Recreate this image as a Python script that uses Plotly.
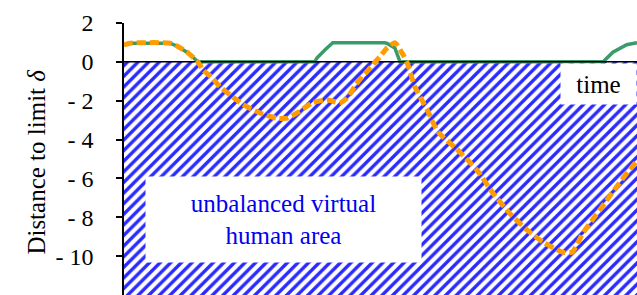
import plotly.graph_objects as go

# time axis in arbitrary units 0..100
orange_t = [0, 1.2, 9.0, 10.5, 12.5, 14.4, 15.4, 17.2, 18.7, 20.7, 23.2, 26.5, 29.8, 31.8, 33.7,
            35.3, 36.8, 39.6, 42.1, 43.5, 45.4, 48.0, 49.9, 51.3, 52.8, 54.2, 55.2, 56.7, 59.1,
            61.2, 64.9, 68.8, 71.9, 75.2, 78.6, 81.7, 85.6, 87.3, 89.5, 92.8, 96.1, 99.0, 100]
orange_y = [0.88, 0.96, 0.96, 0.79, 0.46, 0.0, -0.41, -0.83, -1.28, -1.70, -2.2, -2.63, -2.9, -2.9, -2.63,
            -2.35, -2.1, -1.96, -2.1, -1.85, -1.1, -0.3, 0.27, 0.72, 0.98, 0.46, -0.05, -1.28, -2.47,
            -3.6, -4.5, -5.57, -6.75, -7.8, -8.66, -9.28, -9.8, -9.8, -8.8, -7.6, -6.4, -5.4, -5.1]

green_t = [0, 1.2, 9.0, 10.5, 12.5, 14.0, 14.4, 37.2, 37.6, 39.2, 40.2, 40.7, 50.8, 51.3, 52.8, 53.4, 53.8,
           93.4, 95.3, 98.0, 100]
green_y = [0.88, 0.96, 0.96, 0.79, 0.46, 0.08, 0.0, 0.0, 0.2, 0.62, 0.9, 0.98, 0.98, 0.95, 0.72, 0.2, 0.0,
           0.0, 0.5, 0.88, 0.98]

tick_vals = [2, 0, -2, -4, -6, -8, -10]
tick_text = ["2", "0", "- 2", "- 4", "- 6", "- 8", "- 10"]

area_t = [0, 100, 100, 0]
area_y = [0, 0, -13, -13]

FONT = "Liberation Serif, Times New Roman, serif"

fig = go.Figure()
fig.add_trace(go.Scatter(
    x=area_t, y=area_y, mode="none", fill="toself", fillcolor="white",
    fillpattern=dict(shape="/", fgcolor="#2a2aff", bgcolor="white", fgopacity=1,
                     size=7.5, solidity=0.45),
    hoverinfo="skip", showlegend=False))
fig.add_trace(go.Scatter(
    x=green_t, y=green_y, mode="lines",
    line=dict(color="#3a9a6a", width=3.5), showlegend=False))
fig.add_trace(go.Scatter(
    x=[0, 100], y=[0, 0], mode="lines", line=dict(color="black", width=1.5), showlegend=False))
fig.add_trace(go.Scatter(
    x=orange_t, y=orange_y, mode="lines",
    line=dict(color="#ff9c00", width=5, dash="9px,4px", shape="spline", smoothing=0.6),
    showlegend=False))

fig.add_annotation(x=31.0, y=-8.13, xref="x", yref="y", text="unbalanced virtual<br>human area",
                   showarrow=False, bgcolor="white", width=273, height=83,
                   font=dict(family=FONT, size=25, color="#0000ee"))
fig.add_annotation(x=100, y=-1.15, xref="x", yref="y", text="time", xanchor="right",
                   showarrow=False, bgcolor="white", width=73, height=38, align="center",
                   font=dict(family=FONT, size=25, color="black"))
fig.add_annotation(x=-0.2, y=0.49, xref="paper", yref="paper",
                   text="Distance to limit <i>δ</i>", textangle=-90, showarrow=False,
                   font=dict(family=FONT, size=25, color="black"))

fig.update_layout(
    width=637, height=295, margin=dict(l=124, r=0, t=23, b=0),
    paper_bgcolor="white", plot_bgcolor="white", showlegend=False,
    font=dict(family=FONT, size=24, color="black"),
)
fig.update_xaxes(range=[0, 100], showgrid=False, zeroline=False, showticklabels=False,
                 showline=False, ticks="")
fig.update_yaxes(range=[-12, 2], showgrid=False, zeroline=False, tickvals=tick_vals,
                 ticktext=tick_text, ticks="outside", ticklen=6, tickwidth=1.5,
                 tickcolor="black", showline=True, linecolor="black", linewidth=1.5,
                 ticklabelstandoff=18, tickfont=dict(family=FONT, size=24, color="black"))

fig.write_html("out.html", config={"displayModeBar": False},
               post_script="document.body.style.margin='0';document.body.style.overflow='hidden';")
